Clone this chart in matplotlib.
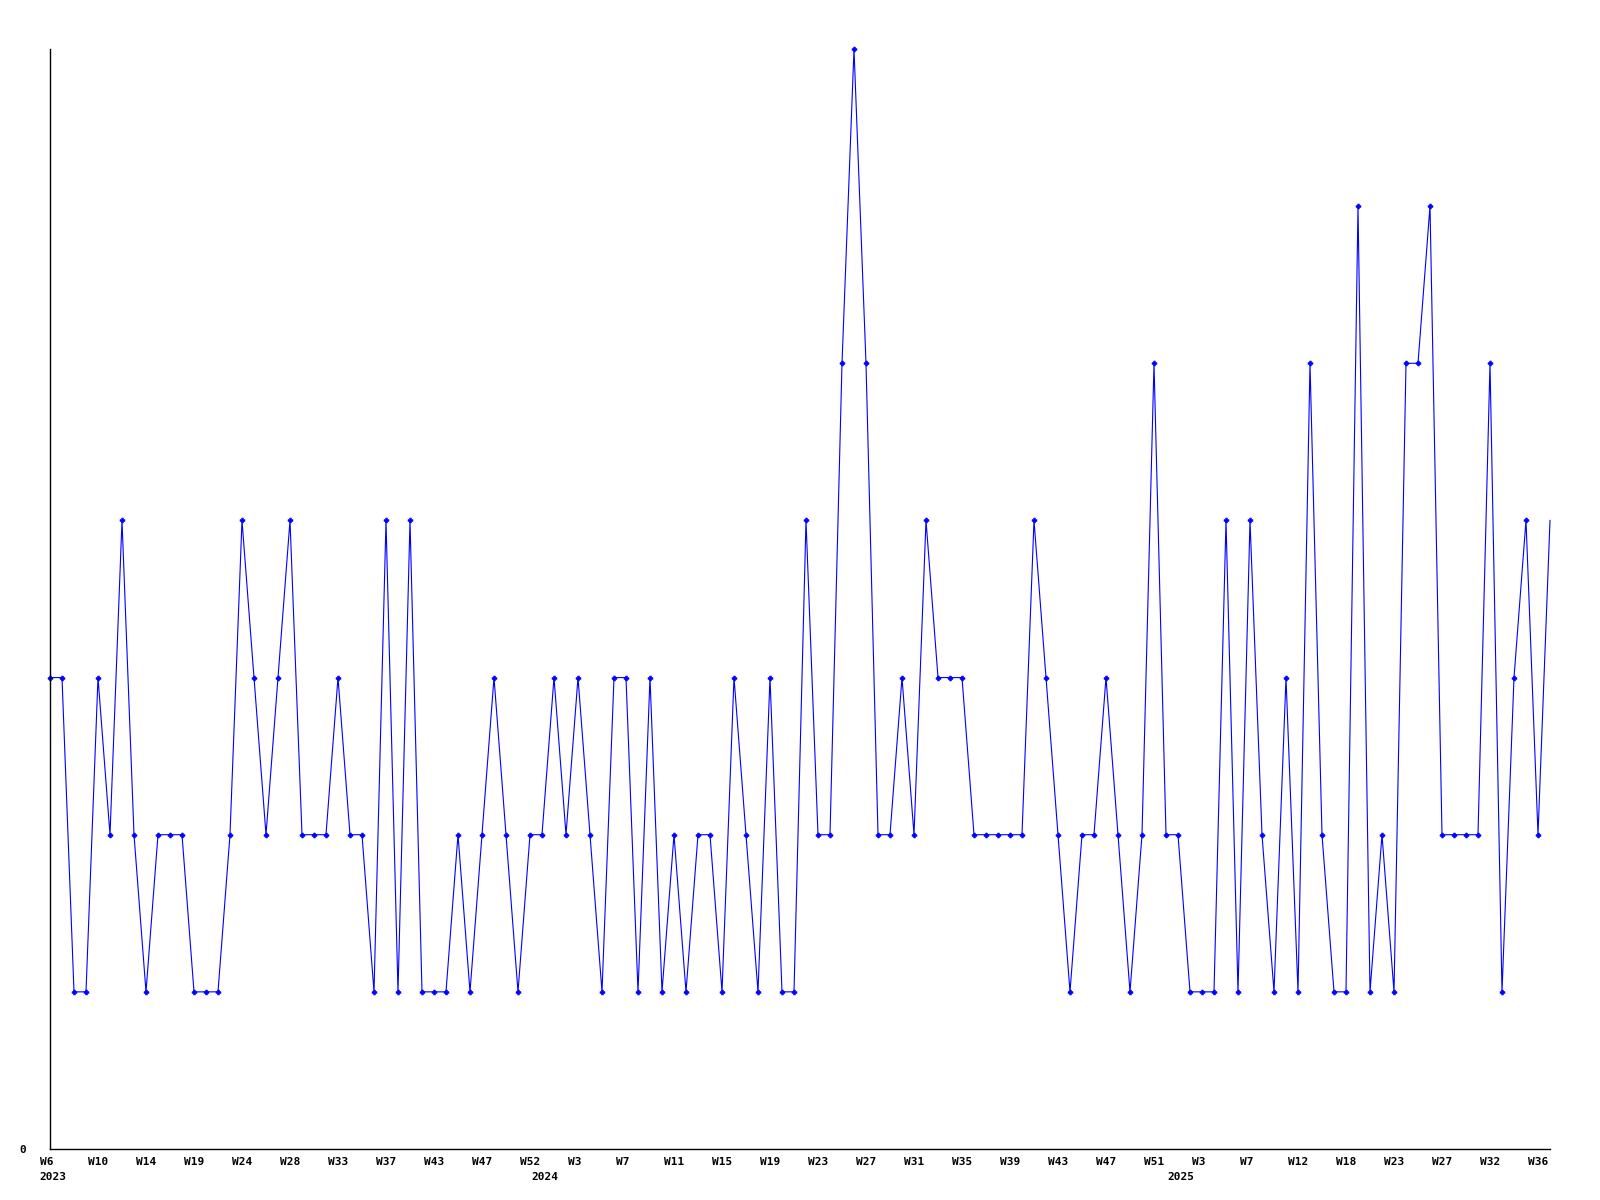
import numpy as np
import matplotlib
matplotlib.use("Agg")
import matplotlib.pyplot as plt

# weekly values, one per point
values = [3, 3, 1, 1, 3, 2, 4, 2, 1, 2, 2, 2, 1, 1, 1, 2, 4, 3, 2, 3,
          4, 2, 2, 2, 3, 2, 2, 1, 4, 1, 4, 1, 1, 1, 2, 1, 2, 3, 2, 1,
          2, 2, 3, 2, 3, 2, 1, 3, 3, 1, 3, 1, 2, 1, 2, 2, 1, 3, 2, 1,
          3, 1, 1, 4, 2, 2, 5, 7, 5, 2, 2, 3, 2, 4, 3, 3, 3, 2, 2, 2,
          2, 2, 4, 3, 2, 1, 2, 2, 3, 2, 1, 2, 5, 2, 2, 1, 1, 1, 4, 1,
          4, 2, 1, 3, 1, 5, 2, 1, 1, 6, 1, 2, 1, 5, 5, 6, 2, 2, 2, 2,
          5, 1, 3, 4, 2, 4]

# one label every 4th point
week_labels = ["W6", "W10", "W14", "W19", "W24", "W28", "W33", "W37", "W43", "W47",
               "W52", "W3", "W7", "W11", "W15", "W19", "W23", "W27", "W31", "W35",
               "W39", "W43", "W47", "W51", "W3", "W7", "W12", "W18", "W23", "W27",
               "W32", "W36"]
year_labels = ["2023", "2024", "2025"]
year_pos = [0, 41, 94]

x = np.arange(len(values))
px = 0.72  # points per pixel at dpi 100

fig = plt.figure(figsize=(16, 12), dpi=100)
ax = fig.add_axes([50 / 1600, 1 - 1149 / 1200, 1500 / 1600, 1100 / 1200])

ax.plot(x, values, color="#0000ff", linewidth=0.8, marker="P", markersize=3.5,
        markeredgewidth=0.5, markevery=list(range(len(values) - 1)), clip_on=False)

ax.set_xlim(0, len(values) - 1)
ax.set_ylim(0, max(values))

for s in ["top", "right"]:
    ax.spines[s].set_visible(False)
for s in ["left", "bottom"]:
    ax.spines[s].set_color("black")
    ax.spines[s].set_linewidth(1.0)

ax.set_xticks([])
ax.set_yticks([])

font = dict(family="DejaVu Sans Mono", fontweight="bold", fontsize=8, color="black")

for i, lab in enumerate(week_labels):
    ax.annotate(lab, xy=(i * 4, 0), xycoords=("data", "axes fraction"),
                xytext=(-10.5 * px, -13 * px), textcoords="offset points",
                ha="left", va="center", annotation_clip=False, **font)

for pos, lab in zip(year_pos, year_labels):
    ax.annotate(lab, xy=(pos, 0), xycoords=("data", "axes fraction"),
                xytext=(-10.5 * px, -28 * px), textcoords="offset points",
                ha="left", va="center", annotation_clip=False, **font)

ax.annotate("0", xy=(0, 0), xycoords="axes fraction",
            xytext=(-24 * px, -1 * px), textcoords="offset points",
            ha="right", va="center", annotation_clip=False, **font)

fig.savefig("out.png", dpi=100)
